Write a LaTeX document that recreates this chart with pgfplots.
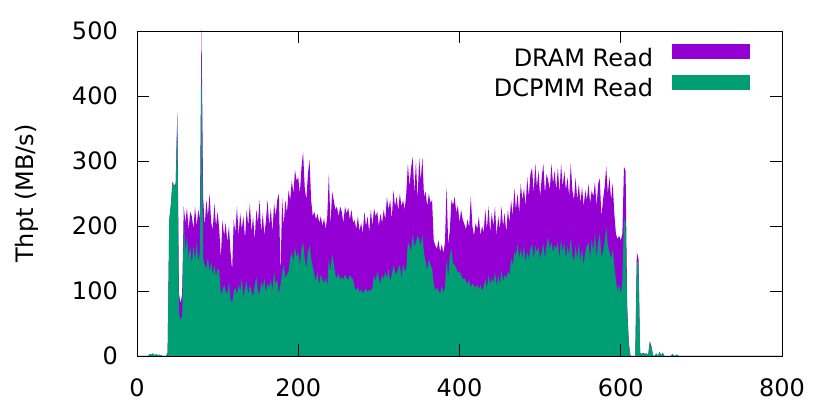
\documentclass[border=0pt]{standalone}
\usepackage{fontspec}
\setmainfont{DejaVu Sans}
\usepackage{pgfplots}
\usepackage{pgfplotstable}
\pgfplotsset{compat=1.18}
\definecolor{dramcol}{HTML}{9400D3}
\definecolor{pmmcol}{HTML}{009E73}
\pgfplotstableread{
x dram dcpmm
0 0 0
14 0 0
16 3 3
18 2 2
20 4 4
22 1 1
24 3 3
26 1 1
28 2 2
30 1 1
32 0 0
36 0 0
38 5 5
40 209 209
42 232 232
44 268 268
46 262 262
48 265 262
50 375 368
52 97 66
54 81 56
56 95 60
58 230 209
60 205 160
62 228 185
64 194 150
66 222 170
68 215 142
70 196 170
72 230 148
74 200 175
76 225 145
78 210 160
80 510 463
82 245 150
84 200 140
86 240 135
88 215 152
90 250 130
92 205 145
94 194 125
96 235 140
98 200 122
100 222 135
102 195 130
104 150 95
106 209 100
108 185 110
110 205 100
112 175 95
114 200 115
116 160 88
118 132 81
120 210 100
122 190 105
124 230 95
126 185 110
128 220 100
130 195 120
132 215 90
134 180 105
136 225 115
138 200 95
140 235 110
142 190 100
144 215 92
146 178 108
148 225 122
150 205 100
152 240 95
154 190 115
156 220 105
158 185 120
160 210 98
162 240 112
164 200 105
166 228 118
168 190 100
170 235 130
172 215 110
174 240 118
176 250 95
178 122 110
180 245 128
182 200 140
184 240 120
186 220 125
188 255 130
190 240 150
192 270 160
194 250 145
196 286 168
198 270 152
200 275 160
202 250 140
204 290 165
206 314 175
208 260 150
210 240 135
212 280 160
214 302 170
216 240 150
218 215 137
220 222 125
222 210 115
224 219 130
226 205 110
228 215 125
230 200 118
232 212 112
234 195 120
236 215 108
238 281 150
240 200 130
242 253 158
244 240 142
246 225 125
248 230 120
250 215 127
252 230 117
254 222 122
256 205 118
258 230 125
260 219 120
262 228 117
264 210 125
266 225 120
268 205 118
270 209 105
272 195 100
274 215 107
276 192 98
278 205 103
280 188 96
282 222 100
284 200 104
286 215 98
288 190 102
290 225 100
292 200 105
294 227 125
296 215 115
298 222 130
300 200 120
302 219 110
304 205 125
306 225 118
308 210 130
310 245 120
312 225 135
314 240 115
316 210 125
318 255 140
320 230 130
322 245 125
324 224 135
326 250 140
328 230 120
330 240 142
332 225 130
334 250 135
336 296 175
338 260 170
340 290 160
342 306 188
344 250 168
346 300 175
348 240 185
350 305 180
352 270 170
354 306 188
356 245 158
358 253 145
360 230 132
362 250 150
364 235 140
366 240 135
368 178 112
370 170 100
372 165 105
374 178 100
376 160 96
378 172 108
380 158 98
382 175 105
384 261 150
386 170 120
388 194 155
390 240 165
392 232 142
394 245 140
396 220 135
398 232 128
400 205 130
402 225 125
404 210 118
406 203 120
408 195 115
410 210 110
412 198 118
414 245 105
416 200 112
418 185 108
420 205 105
422 195 110
424 215 102
426 185 110
428 200 100
430 190 108
432 225 118
434 195 105
436 230 125
438 190 110
440 220 120
442 200 112
444 230 130
446 185 108
448 215 125
450 195 110
452 230 132
454 200 115
456 220 125
458 190 120
460 225 130
462 205 125
464 240 150
466 215 140
468 258 160
470 225 155
472 250 173
474 220 150
476 265 165
478 240 150
480 258 170
482 230 145
484 275 160
486 245 150
488 280 165
490 290 172
492 250 150
494 296 170
496 260 160
498 285 168
500 245 150
502 275 160
504 296 173
506 250 150
508 280 170
510 270 183
512 255 165
514 296 175
516 265 160
518 285 170
520 255 165
522 290 175
524 250 150
526 296 180
528 260 160
530 285 175
532 255 150
534 275 170
536 245 155
538 296 183
540 255 155
542 240 145
544 275 170
546 240 150
548 265 175
550 235 145
552 260 165
554 230 140
556 255 160
558 240 170
560 265 175
562 235 150
564 255 180
566 245 160
568 268 190
570 230 150
572 265 175
574 273 189
576 214 152
578 240 160
580 260 175
582 291 200
584 250 170
586 276 160
588 240 150
590 266 165
592 220 140
594 188 117
596 180 100
598 185 110
600 178 95
602 188 115
604 291 212
606 285 205
608 76 71
610 20 18
612 0 0
618 0 0
620 160 147
622 150 140
624 5 5
626 3 3
628 5 4
630 3 3
632 4 4
634 1 1
636 23 20
638 15 14
640 1 1
642 0 0
644 4 4
646 0 0
648 6 6
650 1 1
652 5 5
654 0 0
662 0 0
664 3 3
666 0 0
670 2 2
672 0 0
800 0 0
}\datatable
\begin{document}
\begin{tikzpicture}
\begin{axis}[
  at={(0,0)}, anchor=south west,
  scale only axis, width=645pt, height=325pt,
  xmin=0, xmax=800, ymin=0, ymax=500,
  xtick={0,200,...,800}, ytick={0,100,...,500},
  minor tick num=0,
  tick align=inside, major tick length=12pt,
  tick style={black, line width=0.9pt},
  axis line style={black, line width=0.9pt},
  axis on top,
  font=\fontsize{24}{28}\selectfont,
  /pgf/number format/assume math mode=true,
  yticklabel style={inner sep=0pt, anchor=east, xshift=-19pt},
  xticklabel style={inner sep=0pt, anchor=north, yshift=-22pt},
  ylabel={Thpt (MB/s)},
  ylabel style={at={(axis description cs:-0.1705,0.5)}, anchor=center},
  legend plot pos=right,
  legend cell align=right,
  legend style={draw=none, fill=none, inner sep=0pt, outer sep=0pt,
    at={(axis description cs:0.9504,0.9592)}, anchor=north east,
    row sep=3pt,
    nodes={inner sep=0pt, outer sep=0pt, text height=17pt, text depth=5pt}},
  legend image code/.code={\path (0pt,0pt); \fill[#1,draw=none] (19pt,1.25pt) rectangle (97pt,16.25pt);},
]
\addplot[fill=dramcol, draw=none] table[x=x, y=dram] {\datatable} \closedcycle;
\addlegendentry{DRAM Read}
\addplot[fill=pmmcol, draw=none] table[x=x, y=dcpmm] {\datatable} \closedcycle;
\addlegendentry{DCPMM Read}
\end{axis}
\pgfresetboundingbox
\path[use as bounding box] (-137pt,-59pt) rectangle (693pt,356pt);
\end{tikzpicture}
\end{document}
